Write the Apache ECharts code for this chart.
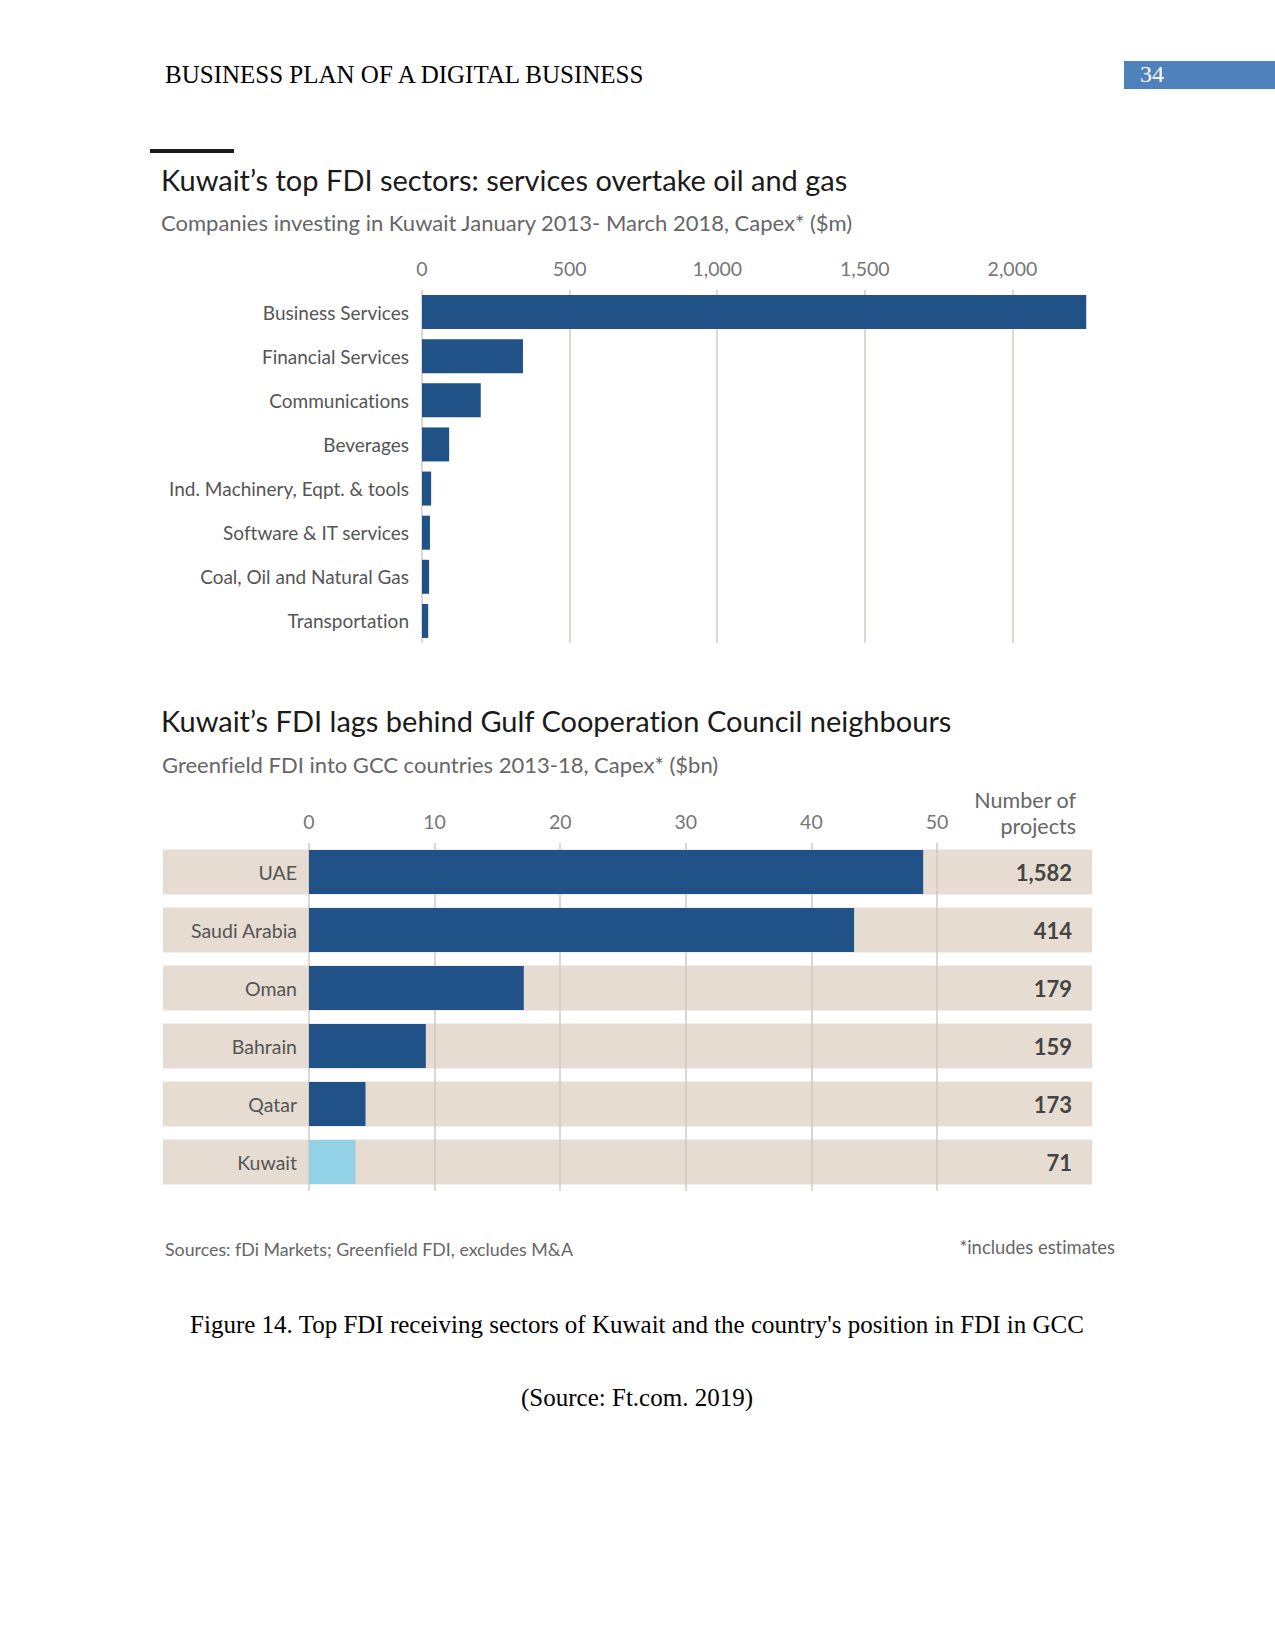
<!DOCTYPE html>
<html><head><meta charset="utf-8">
<script src="https://cdn.jsdelivr.net/npm/echarts@6/dist/echarts.min.js"></script>
<style>html,body{margin:0;padding:0;background:#fff}#c{width:1275px;height:1650px;font-variant-ligatures:none}#c text{font-variant-ligatures:none}</style>
</head><body><div id="c"></div>
<script>
// ---- Data ----
const sectors = ['Business Services','Financial Services','Communications','Beverages','Ind. Machinery, Eqpt. & tools','Software & IT services','Coal, Oil and Natural Gas','Transportation'];
const sectorCapex = [2250, 342, 199, 92, 31, 27, 24, 21];
const sectorTicks = [0, 500, 1000, 1500, 2000];

const countries = ['UAE','Saudi Arabia','Oman','Bahrain','Qatar','Kuwait'];
const countryCapex = [48.9, 43.4, 17.1, 9.3, 4.5, 3.7];
const countryProjects = [1582, 414, 179, 159, 173, 71];
const countryTicks = [0, 10, 20, 30, 40, 50];

const FONT = 'Lato';
const BLUE = '#205287';
const LIGHTBLUE = '#93d1e6';
const BEIGE = '#e6dcd2';
const GRID = '#cfcac4';

const chart = echarts.init(document.getElementById('c'), null, {renderer: 'svg'});

function txt(x, y, text, size, color, opts) {
  return {
    type: 'text', x: x, y: y,
    style: Object.assign({text: text, fontFamily: FONT, fontSize: size, fill: color, textVerticalAlign: 'middle'}, opts || {})
  };
}

const option = {
  animation: false,
  backgroundColor: '#fff',
  graphic: [
    // page header
    txt(165, 74, 'BUSINESS PLAN OF A DIGITAL BUSINESS', 25, '#000', {fontFamily: 'Liberation Serif'}),
    {type: 'rect', shape: {x: 1124, y: 61, width: 151, height: 28}, style: {fill: '#4f81bd'}},
    txt(1140, 74, '34', 24, '#fff', {fontFamily: 'Liberation Serif'}),
    // top chart
    {type: 'rect', shape: {x: 150, y: 149, width: 84, height: 4}, style: {fill: '#1a1a1a'}},
    txt(161, 179, 'Kuwait\u2019s top FDI sectors: services overtake oil and gas', 29, '#1a1a1a'),
    txt(161, 222, 'Companies investing in Kuwait January 2013- March 2018, Capex* ($m)', 22, '#666'),
    // bottom chart
    txt(161, 720, 'Kuwait\u2019s FDI lags behind Gulf Cooperation Council neighbours', 29, '#1a1a1a'),
    txt(162, 764, 'Greenfield FDI into GCC countries 2013-18, Capex* ($bn)', 22, '#666'),
    txt(1076, 800, 'Number of', 21.5, '#666', {textAlign: 'right'}),
    txt(1076, 826, 'projects', 21.5, '#666', {textAlign: 'right'}),
    // footer
    txt(165, 1249, 'Sources: fDi Markets; Greenfield FDI, excludes M&A', 17.8, '#666'),
    txt(1115, 1247, '*includes estimates', 18.4, '#666', {textAlign: 'right'}),
    txt(637, 1324, "Figure 14. Top FDI receiving sectors of Kuwait and the country's position in FDI in GCC", 25, '#000', {fontFamily: 'Liberation Serif', textAlign: 'center'}),
    txt(637, 1397, '(Source: Ft.com. 2019)', 25, '#000', {fontFamily: 'Liberation Serif', textAlign: 'center'})
  ],
  grid: [
    {left: 422, width: 679, top: 290, height: 353, containLabel: false},
    {left: 163, width: 929, top: 843, height: 348, containLabel: false},
    {left: 309, width: 628, top: 843, height: 348, containLabel: false}
  ],
  xAxis: [
    {type: 'value', gridIndex: 0, position: 'top', min: 0, max: 2300, interval: 500,
     axisLine: {show: false}, axisTick: {show: false},
     axisLabel: {margin: 12, fontFamily: FONT, fontSize: 19.5, color: '#777',
       formatter: v => sectorTicks.indexOf(v) >= 0 ? v.toLocaleString('en-US') : ''},
     splitLine: {show: true, showMaxLine: false, lineStyle: {color: GRID, width: 1.5}}},
    {type: 'value', gridIndex: 1, min: 0, max: 1, show: false},
    {type: 'value', gridIndex: 2, position: 'top', min: 0, max: 50, interval: 10, z: 1,
     axisLine: {show: false}, axisTick: {show: false},
     axisLabel: {margin: 12, fontFamily: FONT, fontSize: 19.5, color: '#777',
       formatter: v => countryTicks.indexOf(v) >= 0 ? String(v) : ''},
     splitLine: {show: true, lineStyle: {color: GRID, width: 1.5}}}
  ],
  yAxis: [
    {type: 'category', gridIndex: 0, data: sectors, inverse: true,
     axisLine: {show: false}, axisTick: {show: false},
     axisLabel: {margin: 13, fontFamily: FONT, fontSize: 19, color: '#555'}},
    {type: 'category', gridIndex: 1, data: countries, inverse: true, show: false},
    {type: 'category', gridIndex: 2, data: countries, inverse: true,
     axisLine: {show: false}, axisTick: {show: false},
     axisLabel: {margin: 12, fontFamily: FONT, fontSize: 19.5, color: '#555'}}
  ],
  series: [
    {type: 'bar', xAxisIndex: 0, yAxisIndex: 0, data: sectorCapex, barWidth: 34,
     itemStyle: {color: BLUE}, z: 2},
    {type: 'bar', xAxisIndex: 1, yAxisIndex: 1, data: countryProjects.map(() => 1), barWidth: 45,
     itemStyle: {color: BEIGE}, z: 0, silent: true,
     label: {show: true, position: 'insideRight', distance: 20, fontFamily: FONT, fontSize: 22,
       fontWeight: 'bold', color: '#444',
       formatter: p => countryProjects[p.dataIndex].toLocaleString('en-US')}},
    {type: 'bar', xAxisIndex: 2, yAxisIndex: 2, data: countryCapex.map((v, i) => ({
        value: v, itemStyle: {color: countries[i] === 'Kuwait' ? LIGHTBLUE : BLUE}})),
     barWidth: 44, z: 3}
  ]
};
chart.setOption(option);
</script></body></html>
